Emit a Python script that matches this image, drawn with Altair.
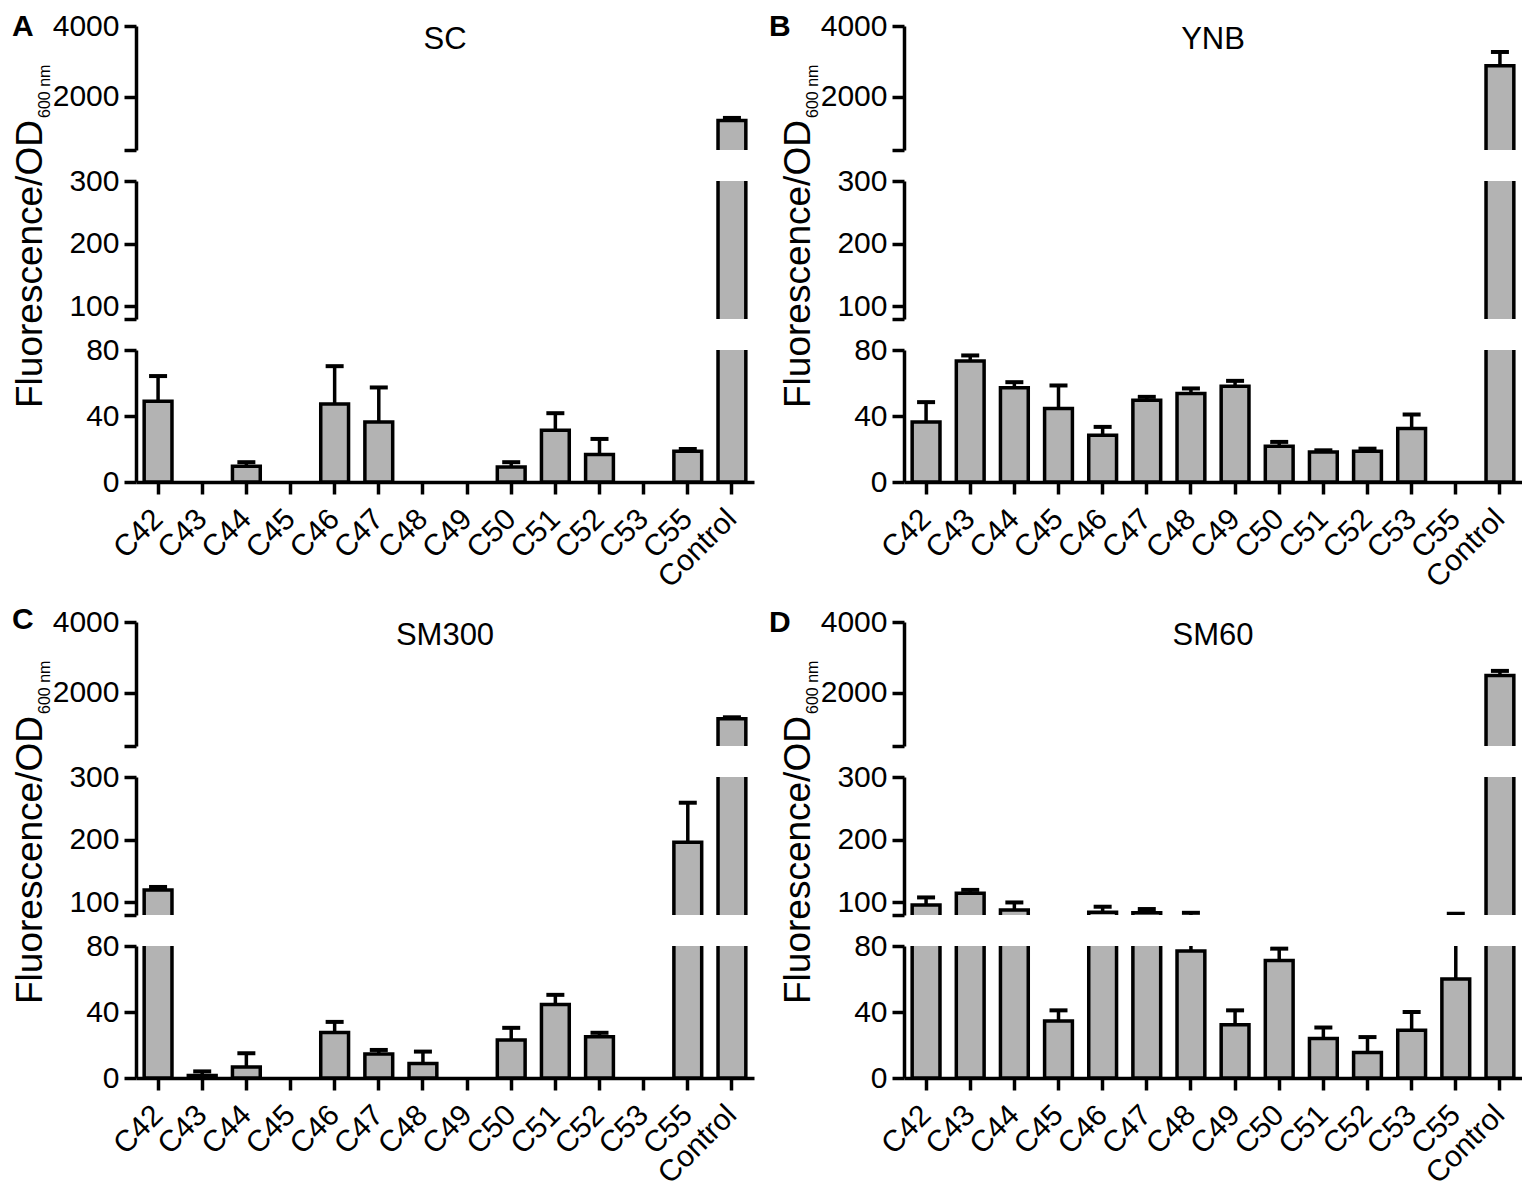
import altair as alt
import pandas as pd

# ---------------- data ----------------
categories = ["C42", "C43", "C44", "C45", "C46", "C47", "C48", "C49",
              "C50", "C51", "C52", "C53", "C55", "Control"]

sc_mean = [49, 0, 9.5, 0, 47.2, 36.4, 0, 0, 9.1, 31.4, 16.6, 0, 18.6, 1330]
sc_err = [15.2, 0, 2.5, 0, 23, 20.9, 0, 0, 2.9, 10.3, 9.5, 0, 1.4, 75]

ynb_mean = [36.4, 73.3, 57.1, 44.5, 28.3, 49.6, 53.6, 58.1, 21.7, 18.2, 18.6, 32.4, 0, 2877]
ynb_err = [12, 3.4, 3.4, 14, 5.1, 2, 3.1, 3.2, 2.6, 1, 1.6, 8.5, 0, 390]

sm300_mean = [120, 1.5, 6.6, 0, 27.6, 14.6, 8.8, 0, 23, 44.6, 25, 0, 196, 1270]
sm300_err = [4.7, 2.5, 8.4, 0, 6.4, 2.4, 7.2, 0, 7.4, 5.8, 2.4, 0, 63, 40]

sm60_mean = [96, 114.7, 88, 34.6, 84.3, 83.5, 77, 32.2, 71.2, 24, 15.4, 29, 60, 2490]
sm60_err = [12, 5.3, 12, 6.4, 8.9, 6, 6.5, 8.8, 7.2, 6.6, 9.4, 11, 22, 130]

panel_letters = ["A", "B", "C", "D"]
panel_titles = ["SC", "YNB", "SM300", "SM60"]

top_domain = [500, 4000]
mid_domain = [80, 300]
bot_domain = [0, 80]
top_ticks = [500, 2000, 4000]
mid_ticks = [80, 100, 200, 300]
bot_ticks = [0, 40, 80]

y_title_main = "Fluorescence/OD"
y_title_sub = "600 nm"

# ---------------- styling ----------------
W = 618
H_TOP, H_MID, H_BOT = 124, 138, 132
SEG_GAP = 31
FILL = "#b3b3b3"
LW = 3.5
FONT = "Liberation Sans"
LABEL_SIZE = 30

one = pd.DataFrame({"k": [0]})


def x_enc(show_axis):
    axis = None
    if show_axis:
        axis = alt.Axis(title=None, labelAngle=-45, labelAlign="right",
                        labelBaseline="middle", labelPadding=20,
                        labelFontSize=LABEL_SIZE, labelFont=FONT)
    return alt.X("cat:N", sort=categories,
                 scale=alt.Scale(domain=categories, paddingInner=0.37,
                                 paddingOuter=0.185),
                 axis=axis)


def y_axis(ticks, hidden):
    return alt.Axis(title=None, values=ticks, format="d",
                    labelExpr=f"datum.value == {hidden} ? '' : datum.label",
                    labelOverlap=False, labelFlush=False, labelPadding=5,
                    labelFontSize=LABEL_SIZE, labelFont=FONT)


def segment(df, domain, ticks, hidden, height, show_x, extra=()):
    ysc = alt.Scale(domain=domain, nice=False, zero=False)
    ax = y_axis(ticks, hidden)
    lo, hi = domain
    base = alt.Chart(df).encode(x=x_enc(show_x))
    bars = base.transform_filter("datum.value > 0").mark_bar(
        fill=FILL, stroke="black", strokeWidth=LW, strokeJoin="miter",
        clip=True, opacity=1
    ).encode(y=alt.Y("value:Q", scale=ysc, axis=ax), y2=alt.datum(0))
    rules = base.transform_filter("datum.err > 0").mark_rule(
        color="black", strokeWidth=LW, clip=True
    ).encode(y=alt.Y("value:Q", scale=ysc, axis=ax), y2="hi:Q")
    caps = base.transform_filter(
        f"datum.err > 0 && datum.hi >= {lo} && datum.hi <= {hi}"
    ).mark_tick(
        orient="horizontal", size=18, thickness=4, color="black",
        opacity=1, filled=True, clip=True
    ).encode(y=alt.Y("hi:Q", scale=ysc, axis=ax))
    return alt.layer(bars, rules, caps, *extra).properties(width=W, height=height)


def txt(text, x, y, size, weight="normal", angle=0, align="center",
        baseline="middle"):
    return alt.Chart(one).mark_text(
        text=text, fontSize=size, fontWeight=weight, angle=angle,
        align=align, baseline=baseline, font=FONT, color="black"
    ).encode(x=alt.value(x), y=alt.value(y))


def panel(letter, title, mean, err, letter_dx, letter_dy):
    df = pd.DataFrame({"cat": categories, "value": mean, "err": err})
    df["hi"] = df["value"] + df["err"]
    extra = [
        txt(title, W / 2, 14, 31),
        txt(letter, letter_dx, letter_dy, 30, weight="bold", align="left"),
        txt(y_title_main, -94, 382, 37, angle=270, align="left",
            baseline="alphabetic"),
        txt(y_title_sub, -86, 92, 16, angle=270, align="left",
            baseline="alphabetic"),
    ]
    top = segment(df, top_domain, top_ticks, 500, H_TOP, False, extra)
    mid = segment(df, mid_domain, mid_ticks, 80, H_MID, False)
    bot = segment(df, bot_domain, bot_ticks, -1, H_BOT, True)
    return alt.vconcat(top, mid, bot, spacing=SEG_GAP, bounds="flush")


pA = panel(panel_letters[0], panel_titles[0], sc_mean, sc_err, -124, 1)
pB = panel(panel_letters[1], panel_titles[1], ynb_mean, ynb_err, -135, 1)
pC = panel(panel_letters[2], panel_titles[2], sm300_mean, sm300_err, -124, -2)
pD = panel(panel_letters[3], panel_titles[3], sm60_mean, sm60_err, -135, 1)

chart = alt.vconcat(
    alt.hconcat(pA, pB, spacing=15),
    alt.hconcat(pC, pD, spacing=15),
    spacing=12,
).properties(
    padding={"left": 3, "top": 3, "right": 0, "bottom": 0}
).configure_view(stroke=None).configure_axis(
    domainColor="black", domainWidth=LW, tickColor="black", tickWidth=LW,
    tickSize=12, labelColor="black", grid=False
)

chart.save("out.html", embed_options={"renderer": "svg", "actions": False})
